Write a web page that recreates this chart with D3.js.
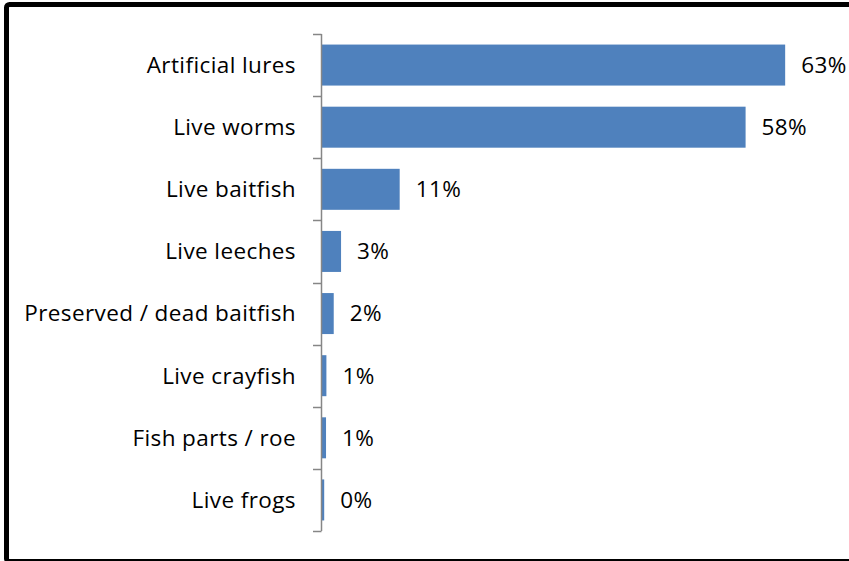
<!DOCTYPE html>
<html>
<head>
<meta charset="utf-8">
<script src="https://cdn.jsdelivr.net/npm/d3@7"></script>
<style>
  html, body { margin: 0; padding: 0; background: #fff; }
  svg { display: block; }
  text { font-family: "Open Sans", Lato, sans-serif; fill: #000; letter-spacing: 0.4px; }
</style>
</head>
<body>
<svg id="chart" width="849" height="561"></svg>
<script>
// Bait types used, share of anglers (percent)
const categories = [
  "Artificial lures",
  "Live worms",
  "Live baitfish",
  "Live leeches",
  "Preserved / dead baitfish",
  "Live crayfish",
  "Fish parts / roe",
  "Live frogs"
];
const shares = [63.2, 57.8, 10.6, 2.6, 1.6, 0.6, 0.55, 0.3];
const axisMax = 70;

const svg = d3.select("#chart");

// Outer frame
svg.append("rect")
  .attr("x", 6.5).attr("y", 4.5)
  .attr("width", 900).attr("height", 557)
  .attr("rx", 3)
  .attr("fill", "#fff")
  .attr("stroke", "#000")
  .attr("stroke-width", 5);

const x = d3.scaleLinear().domain([0, axisMax]).range([322, 835]);
const y = d3.scaleBand()
  .domain(categories)
  .range([34, 531])
  .paddingInner(0.34)
  .paddingOuter(0.17);

// Bars
svg.append("g").selectAll("rect")
  .data(categories)
  .join("rect")
  .attr("x", x(0))
  .attr("y", d => y(d))
  .attr("width", (d, i) => x(shares[i]) - x(0))
  .attr("height", y.bandwidth())
  .attr("fill", "#4F81BD");

// Category axis: line with tick marks between categories
const axisG = svg.append("g");
const axisX = 321.5;
axisG.append("line")
  .attr("x1", axisX).attr("x2", axisX)
  .attr("y1", 34).attr("y2", 531)
  .attr("stroke", "#868686").attr("stroke-width", 1.5);
const boundaries = categories.map(c => y(c) - y.step() * y.paddingInner() / 2).concat([531]);
axisG.selectAll("line.tick")
  .data(boundaries)
  .join("line")
  .attr("class", "tick")
  .attr("x1", 313).attr("x2", axisX)
  .attr("y1", d => Math.round(d) + 0.5).attr("y2", d => Math.round(d) + 0.5)
  .attr("stroke", "#868686").attr("stroke-width", 1.5);

// Category labels
svg.append("g").selectAll("text")
  .data(categories)
  .join("text")
  .attr("x", 296)
  .attr("y", d => y(d) + y.bandwidth() / 2)
  .attr("dy", "0.35em")
  .attr("text-anchor", "end")
  .style("font-size", "22.5px")
  .text(d => d);

// Value labels
const fmt = v => d3.format(".0f")(v) + "%";
svg.append("g").selectAll("text")
  .data(categories)
  .join("text")
  .attr("x", (d, i) => x(shares[i]) + 16)
  .attr("y", d => y(d) + y.bandwidth() / 2)
  .attr("dy", "0.35em")
  .style("font-size", "22.5px")
  .text((d, i) => fmt(shares[i]));
</script>
</body>
</html>
